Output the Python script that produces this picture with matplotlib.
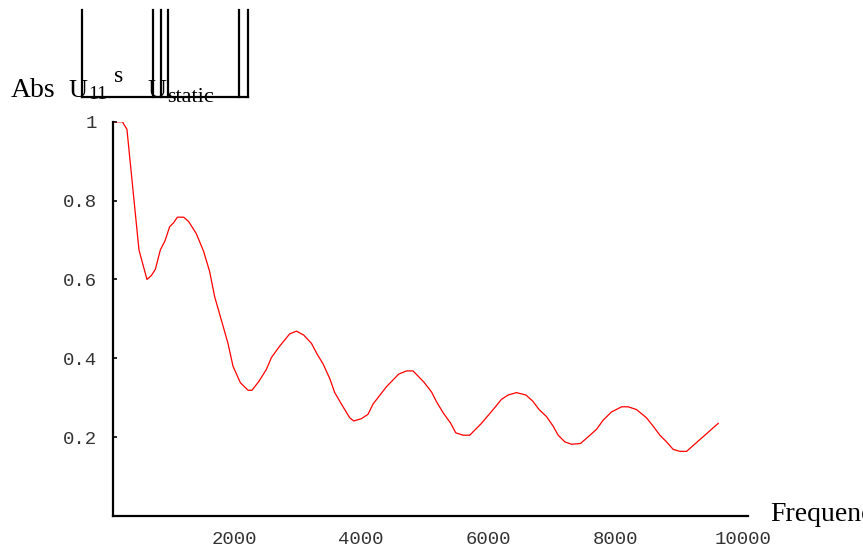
import matplotlib
matplotlib.use("Agg")
import matplotlib.pyplot as plt
from matplotlib.lines import Line2D

# curve (Hz, |U11^s / U_static|)
freq = [100, 247, 319, 508, 634, 703, 766, 844, 917, 991, 1053, 1112, 1211, 1289,
        1410, 1525, 1619, 1698, 1803, 1907, 1986, 2102, 2222, 2285, 2395, 2511,
        2590, 2720, 2877, 2983, 3097, 3219, 3307, 3401, 3506, 3585, 3690, 3821,
        3884, 4005, 4108, 4187, 4398, 4591, 4712, 4816, 4984, 5105, 5184, 5288,
        5404, 5487, 5602, 5707, 5891, 6022, 6100, 6206, 6310, 6442, 6588, 6694,
        6797, 6914, 7017, 7096, 7201, 7307, 7448, 7568, 7700, 7803, 7935, 8093,
        8196, 8328, 8485, 8589, 8695, 8800, 8904, 9010, 9115, 9612]
ratio = [1.0, 1.0, 0.981, 0.675, 0.600, 0.610, 0.626, 0.675, 0.698, 0.734, 0.744,
         0.758, 0.758, 0.747, 0.716, 0.671, 0.620, 0.556, 0.497, 0.438, 0.380,
         0.338, 0.319, 0.319, 0.342, 0.372, 0.402, 0.431, 0.462, 0.469, 0.459,
         0.438, 0.411, 0.386, 0.349, 0.313, 0.284, 0.249, 0.241, 0.247, 0.258,
         0.284, 0.328, 0.360, 0.368, 0.368, 0.340, 0.315, 0.290, 0.262, 0.236,
         0.211, 0.205, 0.205, 0.235, 0.260, 0.275, 0.296, 0.307, 0.313, 0.307,
         0.292, 0.270, 0.252, 0.228, 0.205, 0.188, 0.182, 0.184, 0.201, 0.220,
         0.243, 0.264, 0.277, 0.277, 0.270, 0.249, 0.228, 0.205, 0.188, 0.169,
         0.164, 0.164, 0.235]

xticks = [2000, 4000, 6000, 8000, 10000]
yticks = [0.2, 0.4, 0.6, 0.8, 1.0]
ytick_labels = ['0.2', '0.4', '0.6', '0.8', '1']

W, H = 863, 551
serif = 'Liberation Serif'
mono = 'Liberation Mono'

fig = plt.figure(figsize=(W / 100, H / 100), dpi=100)
ax = fig.add_axes([113 / W, (H - 516) / H, 635 / W, 394.2 / H])

ax.plot(freq, ratio, color='#ff0000', lw=0.9)
ax.set_xlim(100, 10080)
ax.set_ylim(0, 1)

for s in ['top', 'right']:
    ax.spines[s].set_visible(False)
for s in ['left', 'bottom']:
    ax.spines[s].set_linewidth(1.6)
    ax.spines[s].set_color('black')

ax.set_xticks(xticks)
ax.set_xticklabels([str(t) for t in xticks])
ax.set_yticks(yticks)
ax.set_yticklabels(ytick_labels)
ax.tick_params(axis='x', length=0, pad=11)
ax.tick_params(axis='y', direction='in', length=3, width=1.2, pad=11.5)
for lab in ax.get_xticklabels() + ax.get_yticklabels():
    lab.set_fontfamily(mono)
    lab.set_fontsize(13.7)
    lab.set_color('#333333')

# x-axis label (runs off the right edge like the original)
fig.text(770 / W, 1 - 521 / H, 'Frequency', fontfamily=serif, fontsize=20,
         va='baseline', ha='left')

# y-axis label, drawn as the broken Abs[U11^s/U_static] box
def px_text(x, y, s, size):
    fig.text(x / W, 1 - y / H, s, fontfamily=serif, fontsize=size,
             va='baseline', ha='left')

px_text(11, 97, 'Abs', 20)
px_text(68, 97, 'U', 19)
px_text(88, 99, '11', 14)
px_text(114, 82, 's', 17)
px_text(147, 97, 'U', 19)
px_text(167, 102, 'static', 16)

for xv in [81.7, 152.7, 161, 167.7, 239.3, 248.3]:
    fig.add_artist(Line2D([xv / W, xv / W], [1 - 10 / H, 1 - 97 / H],
                          transform=fig.transFigure, color='black', lw=1.6))
fig.add_artist(Line2D([81.7 / W, 248.3 / W], [1 - 97 / H, 1 - 97 / H],
                      transform=fig.transFigure, color='black', lw=1.6))

fig.savefig('out.png', dpi=100)
